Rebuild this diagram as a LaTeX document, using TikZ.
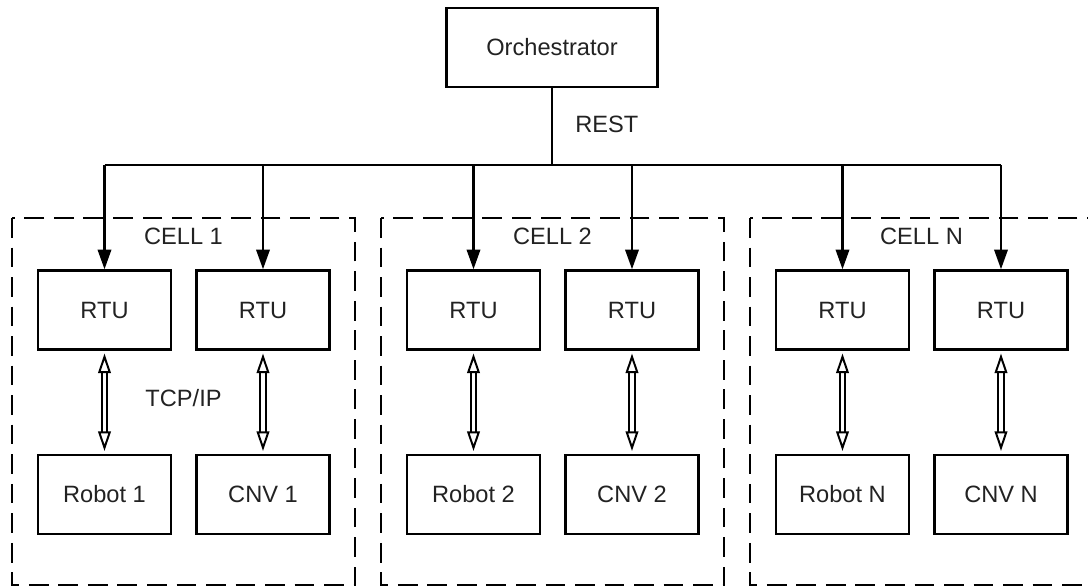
\documentclass[tikz,border=0pt]{standalone}
\usepackage{fontspec}
\setmainfont{Liberation Sans}
\usetikzlibrary{arrows.meta, positioning}
\definecolor{ink}{HTML}{222222}
\tikzset{
  >={Triangle[length=14pt, width=9.5pt]},
  every picture/.style={line join=miter, font=\fontsize{16.8pt}{20pt}\selectfont},
  box/.style={draw, line width=1.7pt, minimum width=3.325cm, minimum height=1.975cm, inner sep=0pt, text=ink},
  cellframe/.style={draw, line width=1.7pt, dash pattern=on 14pt off 7pt},
  wire/.style={line width=1.7pt},
  tcp/.style={double, line width=1.4pt, double distance=2.6pt,
    {Triangle[open, length=14pt, width=9pt]}-{Triangle[open, length=14pt, width=9pt]}},
  lbl/.style={text=ink, inner sep=0pt},
}
\begin{document}
\begin{tikzpicture}[x=0.025cm, y=-0.025cm]
  \useasboundingbox (0,0) rectangle (1088,587);
  \clip (0,0) rectangle (1088,587);
  % top level
  \node[box, minimum width=5.275cm] (orch) at (552,47.5) {Orchestrator};
  \coordinate (bus) at (552,165);
  \node[lbl, anchor=west] (rest) at (575,124) {REST};
  \draw[wire] (orch.south) -- (bus);
  % one cell per robot + conveyor pair
  \foreach \i/\x in {1/0, 2/369, N/738}{
    \draw[cellframe] (12+\x,218) rectangle (355+\x,585);
    \node[lbl] (cell\i) at (183.5+\x,236) {CELL \i};
    \node[box] (rtua\i) at (104.5+\x,310) {RTU};
    \node[box] (rtub\i) at (263+\x,310) {RTU};
    \node[box] (robot\i) at (104.5+\x,494.5) {Robot \i};
    \node[box] (cnv\i) at (263+\x,494.5) {CNV \i};
    \draw[wire, ->] (bus -| rtua\i.north) -- (rtua\i.north);
    \draw[wire, ->] (bus -| rtub\i.north) -- (rtub\i.north);
    \draw[tcp] ([yshift=-2pt]rtua\i.south) -- ([yshift=2pt]robot\i.north);
    \draw[tcp] ([yshift=-2pt]rtub\i.south) -- ([yshift=2pt]cnv\i.north);
  }
  \draw[wire] (bus -| rtua1.north) -- (bus -| rtubN.north);
  \node[lbl] (proto) at (183.5,398) {TCP/IP};
\end{tikzpicture}
\end{document}
